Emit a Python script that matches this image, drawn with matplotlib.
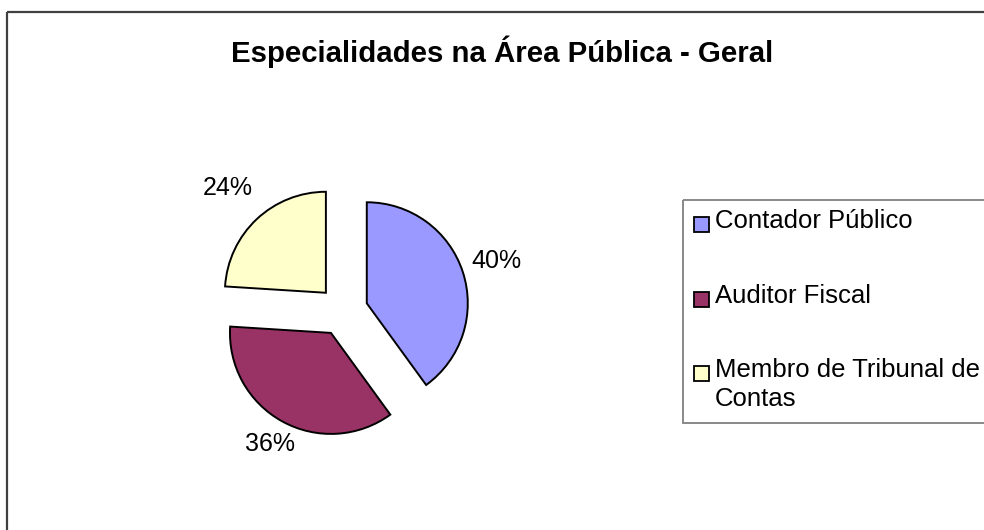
import math
import matplotlib
matplotlib.use("Agg")
import matplotlib.pyplot as plt
from matplotlib.patches import Rectangle

plt.rcParams['font.family'] = ['Liberation Sans', 'DejaVu Sans']

title = "Especialidades na Área Pública - Geral"
categories = ["Contador Público", "Auditor Fiscal", "Membro de Tribunal de\nContas"]
shares = [40, 36, 24]
colors = ["#9999FF", "#993366", "#FFFFCC"]
label_dist = [1.35, 1.26, 1.42]   # where excel dropped the % labels

W, H = 984, 530
fig = plt.figure(figsize=(W / 100, H / 100), dpi=100)

# pie axes, data units = pixels (y up)
ax = fig.add_axes([0, 0, 1, 1])
cx, cy, r = 343, H - 311, 101
wedges, _ = ax.pie(shares, colors=colors, startangle=90, counterclock=False,
                   center=(cx, cy), radius=r, explode=[25] * len(shares),
                   wedgeprops=dict(edgecolor="black", linewidth=1.4))
ax.set_xlim(0, W)
ax.set_ylim(0, H)
ax.set_aspect('auto')
ax.axis('off')

for w, v, d in zip(wedges, shares, label_dist):
    th = math.radians((w.theta1 + w.theta2) / 2)
    x0, y0 = w.center
    ax.text(x0 + r * d * math.cos(th), y0 + r * d * math.sin(th), f"{v}%",
            ha='center', va='center', fontsize=18)

# overlay in pixel coords (y down) for frame, title, legend
ov = fig.add_axes([0, 0, 1, 1], zorder=5)
ov.set_xlim(0, W)
ov.set_ylim(H, 0)
ov.axis('off')
ov.patch.set_alpha(0)

ov.add_patch(Rectangle((7, 12), W + 20, H + 20, fill=False, edgecolor="#404040", linewidth=1.6))
ov.text(502, 52, title, ha='center', va='center', fontsize=21.2, fontweight='bold')

# legend
ov.add_patch(Rectangle((683, 200), W, 223, fill=False, edgecolor="#808080", linewidth=1.3))
rows = [224, 299, 373]
for y, lab, c in zip(rows, categories, colors):
    ov.add_patch(Rectangle((694, y - 7), 15, 15, facecolor=c, edgecolor="black", linewidth=1.3))
    ov.text(715, y - 15, lab, ha='left', va='top', fontsize=18.5, linespacing=1.25)

fig.savefig("out.png", dpi=100)
